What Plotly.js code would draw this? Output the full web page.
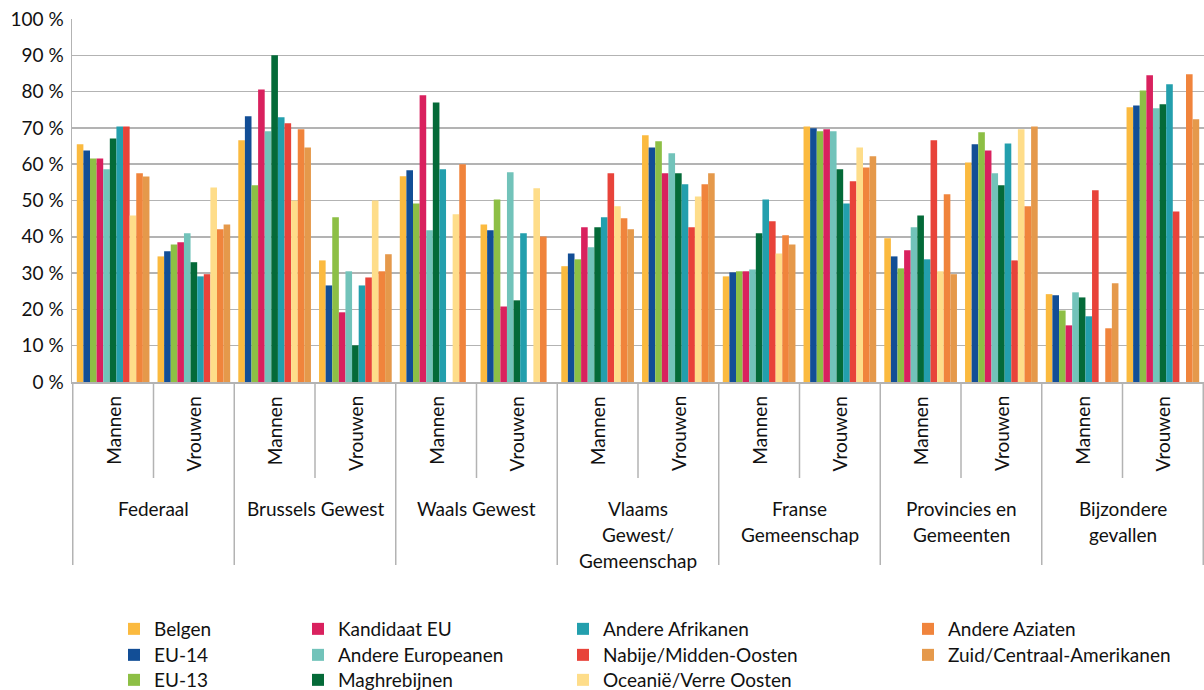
<!DOCTYPE html>
<html><head><meta charset="utf-8">
<script src="https://cdn.plot.ly/plotly-3.0.1.min.js"></script>
<style>body{margin:0;background:#fff}</style>
</head><body><div id="chart" style="width:1204px;height:690px"></div>
<script>
// Outer groups and inner labels
const groups = ['Federaal', 'Brussels Gewest', 'Waals Gewest', 'Vlaams<br>Gewest/<br>Gemeenschap', 'Franse<br>Gemeenschap', 'Provincies en<br>Gemeenten', 'Bijzondere<br>gevallen'];
const genders = ['Mannen', 'Vrouwen'];
const yTickVals = [0, 10, 20, 30, 40, 50, 60, 70, 80, 90, 100];

// Series values, order: each group Mannen then Vrouwen
const belgen    = [65.5, 34.6, 66.6, 33.5, 56.7, 43.4, 31.9, 68.0, 29.1, 70.4, 39.6, 60.5, 24.2, 75.7];
const eu14      = [63.8, 36.0, 73.2, 26.6, 58.3, 41.8, 35.4, 64.6, 30.2, 69.9, 34.6, 65.5, 23.9, 76.2];
const eu13      = [61.6, 37.9, 54.2, 45.4, 49.2, 50.3, 33.8, 66.3, 30.5, 69.1, 31.3, 68.8, 19.7, 80.3];
const kandidaat = [61.6, 38.5, 80.6, 19.2, 79.0, 20.8, 42.6, 57.5, 30.5, 69.6, 36.3, 63.8, 15.6, 84.5];
const andereEur = [58.6, 41.0, 69.1, 30.5, 41.8, 57.8, 37.1, 63.0, 31.0, 69.1, 42.6, 57.5, 24.7, 75.4];
const maghreb   = [67.1, 33.0, 90.0, 10.1, 77.0, 22.5, 42.6, 57.5, 41.0, 58.6, 45.9, 54.2, 23.3, 76.5];
const andereAfr = [70.4, 29.1, 72.9, 26.6, 58.6, 41.0, 45.4, 54.5, 50.3, 49.2, 33.8, 65.7, 18.1, 82.0];
const nabije    = [70.4, 29.7, 71.3, 28.8, null, null, 57.5, 42.6, 44.3, 55.3, 66.6, 33.5, 52.8, 47.0];
const oceanie   = [45.9, 53.6, 50.0, 50.0, 46.2, 53.4, 48.4, 51.1, 35.4, 64.6, 30.5, 69.6, null, null];
const aziaten   = [57.5, 42.1, 69.6, 30.5, 60.0, 40.1, 45.1, 54.5, 40.4, 59.1, 51.7, 48.4, 14.8, 84.8];
const zuid      = [56.6, 43.4, 64.6, 35.2, null, null, 42.1, 57.5, 37.9, 62.2, 29.7, 70.4, 27.2, 72.4];

const seriesNames = ['Belgen', 'EU-14', 'EU-13', 'Kandidaat EU', 'Andere Europeanen', 'Maghrebijnen', 'Andere Afrikanen', 'Nabije/Midden-Oosten', 'Oceanië/Verre Oosten', 'Andere Aziaten', 'Zuid/Centraal-Amerikanen'];
const seriesValues = [belgen, eu14, eu13, kandidaat, andereEur, maghreb, andereAfr, nabije, oceanie, aziaten, zuid];
const colors = ['#FBBA3F', '#124E96', '#8DBF45', '#D9215E', '#72C3BA', '#046A38', '#239FAD', '#E8433A', '#FEDD8A', '#F0843C', '#E5994B'];

const categories = [];
groups.forEach((g, i) => genders.forEach(s => categories.push('g' + i + ' ' + s)));

const FONT = 'Lato, "Open Sans", sans-serif';
const FS = 19;
const TXT = '#111111';
const GRID = '#b3b3b3';

const legendId = k => (k === 0 ? 'legend' : 'legend' + (k + 1));

const traces = seriesNames.map((n, k) => ({
  type: 'bar', name: n, x: categories, y: seriesValues[k],
  marker: {color: colors[k], line: {width: 0}},
  legend: legendId(k),
  hoverinfo: 'skip'
}));

// geometry helpers (pixels -> paper)
const plotTop = 19, plotBottom = 382, plotH = plotBottom - plotTop;
const py = px => (plotBottom - px) / plotH;

const shapes = [];
for (let i = 0; i <= categories.length; i++) {
  const long = (i % 2 === 0);
  shapes.push({type: 'line', xref: 'x', yref: 'paper', x0: i - 0.5, x1: i - 0.5,
    y0: 0, y1: py(long ? 565 : 478), line: {color: GRID, width: 1.5}});
}

const annotations = [];
categories.forEach((c, i) => {
  annotations.push({xref: 'x', yref: 'paper', x: i, y: py(394), yanchor: 'top', xanchor: 'center',
    text: genders[i % 2], textangle: -90, showarrow: false, font: {family: FONT, size: FS, color: TXT}});
});
groups.forEach((g, gi) => {
  g.split('<br>').forEach((line, li) => {
    annotations.push({xref: 'x', yref: 'paper', x: gi * 2 + 0.5, y: py(508 + li * 26), yanchor: 'middle', xanchor: 'center',
      text: line, showarrow: false, font: {family: FONT, size: FS, color: TXT}});
  });
});

// legend layout: 4 columns, column-major
const colX = [114, 298, 563, 908];
const rowY = [628, 654, 679];
const layout = {
  width: 1204, height: 690,
  margin: {l: 72, r: 0, t: plotTop, b: 690 - plotBottom, pad: 0, autoexpand: false},
  paper_bgcolor: '#fff', plot_bgcolor: '#fff',
  barmode: 'group', bargap: 0.1, bargroupgap: 0,
  showlegend: true, hovermode: false,
  font: {family: FONT, size: FS, color: TXT},
  xaxis: {type: 'category', showticklabels: false, ticks: '', showgrid: false, zeroline: false,
    showline: true, linecolor: GRID, linewidth: 1.5, fixedrange: true, automargin: false},
  yaxis: {range: [0, 100], tickvals: yTickVals, ticktext: yTickVals.map(v => v + ' %'),
    showgrid: true, gridcolor: GRID, gridwidth: 1.5, zeroline: false,
    showline: true, linecolor: GRID, linewidth: 1.5, ticks: '', ticklabelstandoff: 3,
    tickfont: {family: FONT, size: FS, color: TXT}, fixedrange: true, automargin: false},
  shapes: shapes,
  annotations: annotations
};
seriesNames.forEach((n, k) => {
  const col = Math.floor(k / 3), row = k % 3;
  layout[legendId(k)] = {
    xref: 'container', yref: 'container', x: colX[col] / 1204, y: 1 - (rowY[row] - 18) / 690,
    xanchor: 'left', yanchor: 'top', orientation: 'v', bgcolor: 'rgba(0,0,0,0)',
    font: {family: FONT, size: FS, color: TXT}, itemclick: false, itemdoubleclick: false
  };
});

Plotly.newPlot('chart', traces, layout, {displayModeBar: false, staticPlot: true});
</script>
</body></html>
